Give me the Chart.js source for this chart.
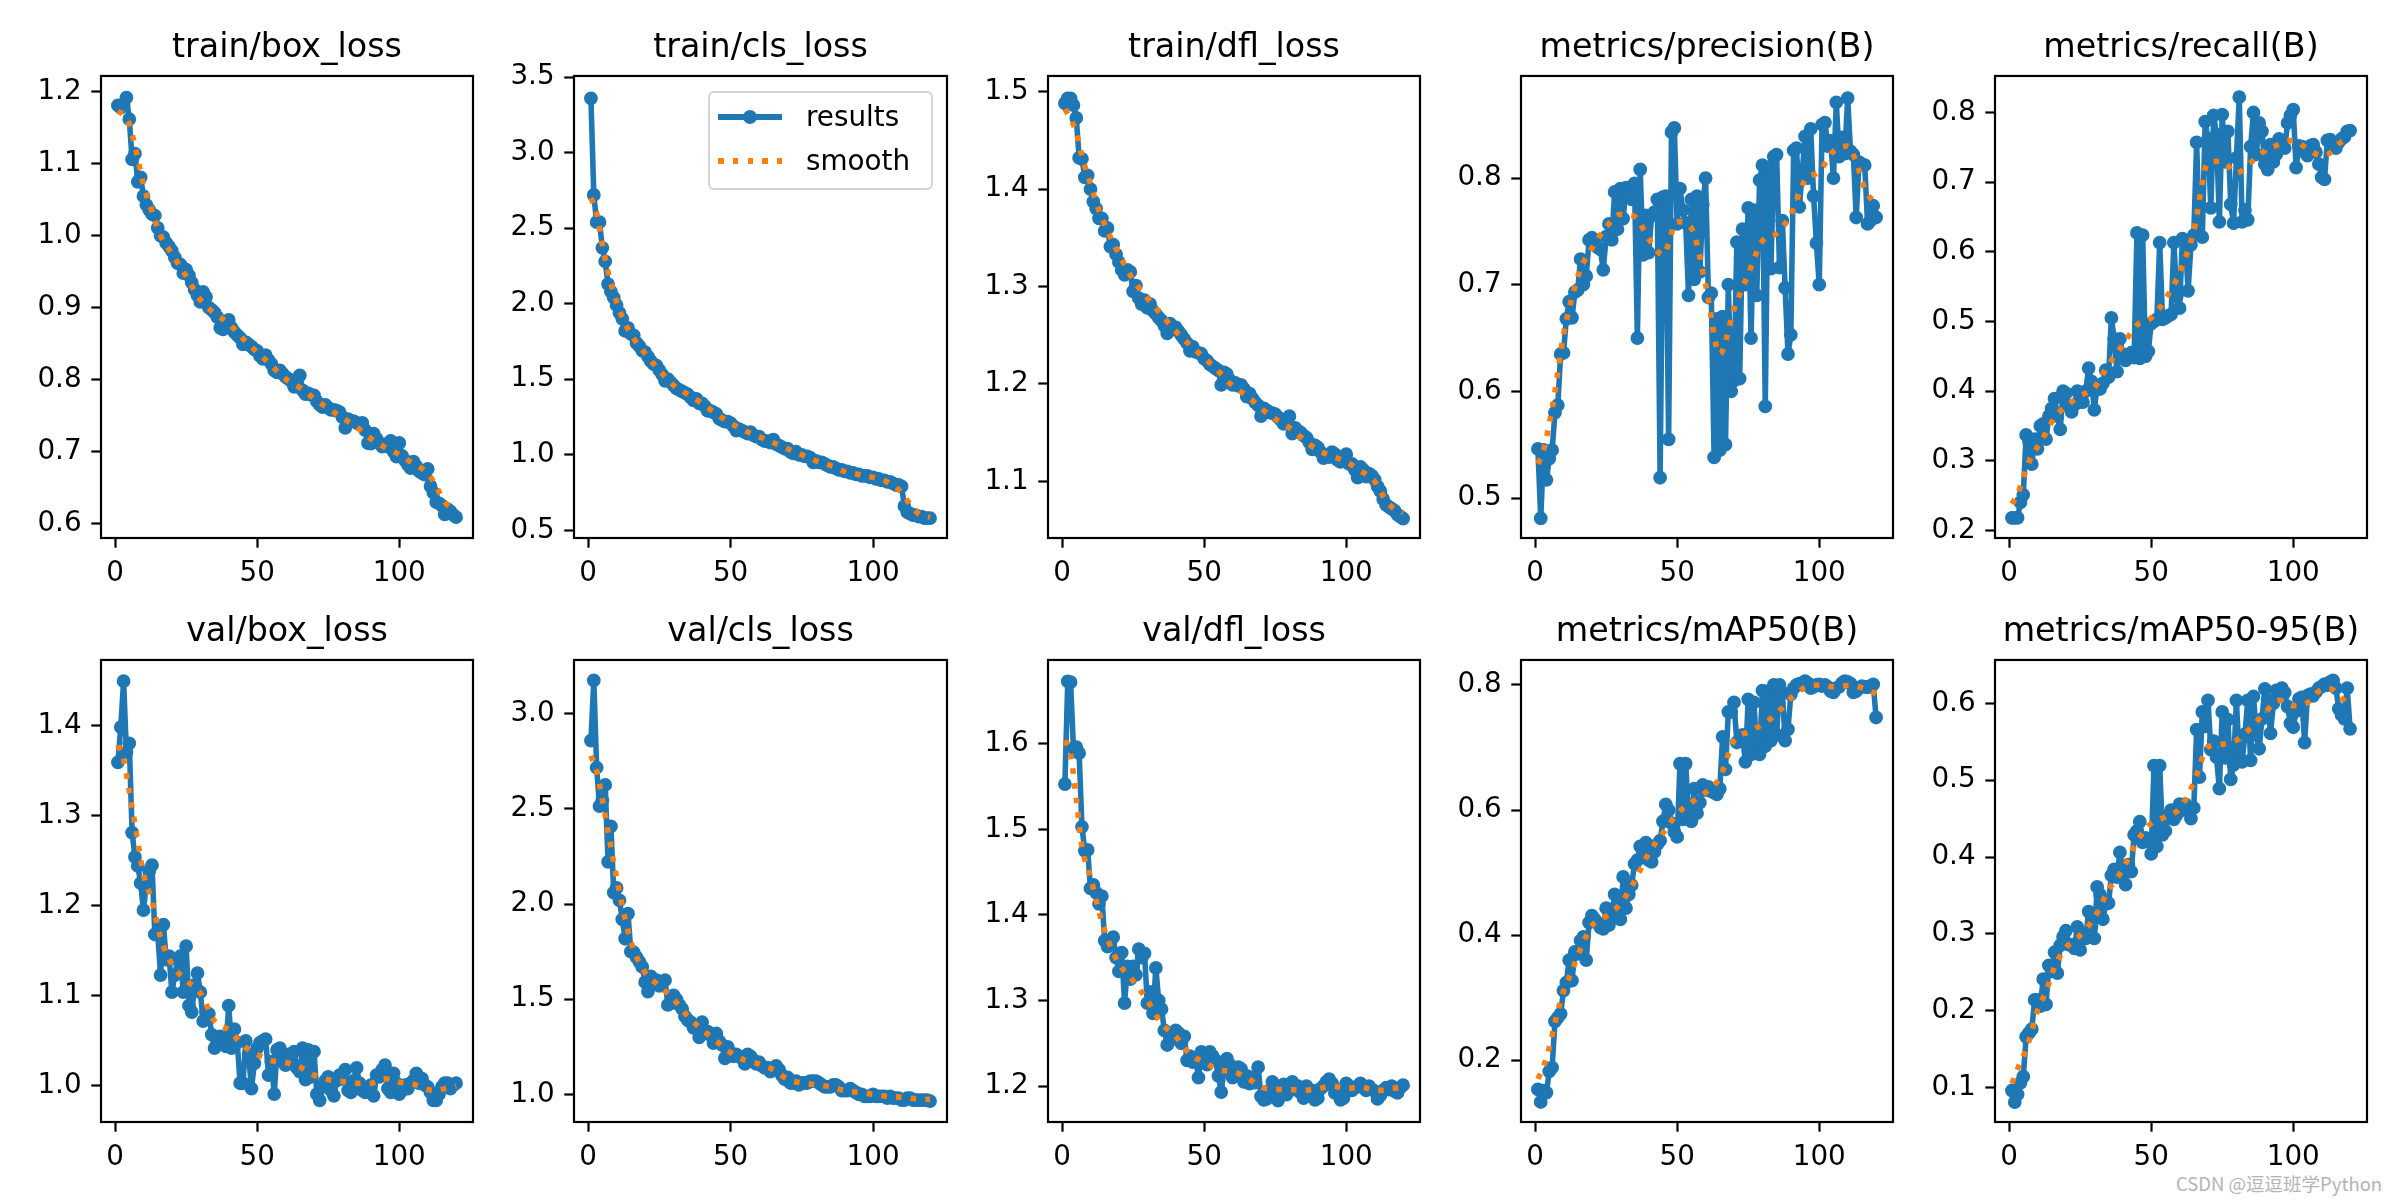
<!DOCTYPE html>
<html>
<head>
  <title>results</title>
  <script src="https://cdn.jsdelivr.net/npm/chart.js"></script>
  <style>
    body {
      margin: 0;
      background: #fff;
    }

    #fig {
      position: relative;
      width: 2400px;
      height: 1200px;
      overflow: hidden;
      font-family: 'DejaVu Sans', sans-serif;
    }

    #fig canvas {
      position: absolute;
    }

    #legend {
      position: absolute;
      left: 708px;
      top: 91px;
      width: 225px;
      height: 99px;
      box-sizing: border-box;
      border: 2.5px solid #d4d4d4;
      border-radius: 6px;
      background: rgba(255,255,255,0.8);
      z-index: 5;
    }

    #legend .item {
      position: absolute;
      left: 0;
      width: 220px;
      height: 32px;
    }

    #legend .line, #legend .dotted {
      position: absolute;
      left: 8px;
      top: 13px;
      width: 64px;
      height: 5.6px;
    }

    #legend .line { background: #1f77b4; }

    #legend .dotted {
      background: repeating-linear-gradient(to right, #ff7f0e 0 5.6px, transparent 5.6px 14.8px);
    }

    #legend .marker {
      position: absolute;
      left: 33px;
      top: 9px;
      width: 14px;
      height: 14px;
      border-radius: 50%;
      background: #1f77b4;
    }

    #legend .label {
      position: absolute;
      left: 96px;
      top: 0;
      line-height: 32px;
      font-size: 27.8px;
      color: #000;
    }

    #mark {
      position: absolute;
      left: 2176px;
      top: 1170px;
      font-family: 'Noto Sans CJK SC', sans-serif;
      font-size: 18.5px;
      color: #b4b4b4;
      white-space: nowrap;
    }
  </style>
</head>
<body>
  <div id="fig">
    <div id="legend">
      <div class="item" style="top:8px">
        <span class="line"></span><span class="marker"></span><span class="label">results</span>
      </div>
      <div class="item" style="top:52px">
        <span class="dotted"></span><span class="label">smooth</span>
      </div>
    </div>
    <div id="mark">CSDN @逗逗班学Python</div>
  </div>

  <script>
    const epochs = [
      1,2,3,4,5,6,7,8,9,10,11,12,13,14,15,16,17,18,19,20,
      21,22,23,24,25,26,27,28,29,30,31,32,33,34,35,36,37,38,39,40,
      41,42,43,44,45,46,47,48,49,50,51,52,53,54,55,56,57,58,59,60,
      61,62,63,64,65,66,67,68,69,70,71,72,73,74,75,76,77,78,79,80,
      81,82,83,84,85,86,87,88,89,90,91,92,93,94,95,96,97,98,99,100,
      101,102,103,104,105,106,107,108,109,110,111,112,113,114,115,116,117,118,119,120
    ];
    const smoothEpochs = [1,3,5,7,10,13,16,20,25,30,35,40,45,50,55,60,65,70,75,80,85,90,95,100,105,110,113,116,120];

    const titles = [
      'train/box_loss', 'train/cls_loss', 'train/dfl_loss', 'metrics/precision(B)', 'metrics/recall(B)',
      'val/box_loss', 'val/cls_loss', 'val/dfl_loss', 'metrics/mAP50(B)', 'metrics/mAP50-95(B)'
    ];

    const trainBox = [
      1.181,1.178,1.183,1.192,1.162,1.106,1.114,1.075,1.081,1.055,
      1.043,1.036,1.030,1.028,1.011,1.000,0.998,0.990,0.985,0.979,
      0.970,0.962,0.960,0.948,0.953,0.945,0.935,0.925,0.917,0.908,
      0.922,0.915,0.900,0.897,0.893,0.887,0.872,0.870,0.880,0.883,
      0.872,0.866,0.862,0.858,0.849,0.852,0.849,0.846,0.842,0.840,
      0.833,0.829,0.834,0.827,0.822,0.813,0.810,0.813,0.808,0.804,
      0.801,0.798,0.790,0.800,0.806,0.785,0.780,0.781,0.779,0.778,
      0.770,0.765,0.762,0.765,0.761,0.758,0.758,0.757,0.755,0.748,
      0.733,0.745,0.743,0.742,0.740,0.738,0.740,0.730,0.712,0.711,
      0.725,0.718,0.712,0.707,0.710,0.707,0.715,0.700,0.693,0.712,
      0.694,0.688,0.682,0.677,0.686,0.680,0.673,0.670,0.668,0.676,
      0.652,0.643,0.630,0.628,0.625,0.613,0.620,0.617,0.612,0.609
    ];
    const trainCls = [
      3.36,2.72,2.54,2.54,2.37,2.28,2.13,2.08,2.04,1.99,
      1.94,1.90,1.82,1.84,1.80,1.79,1.74,1.72,1.69,1.68,
      1.65,1.62,1.60,1.59,1.56,1.53,1.49,1.50,1.48,1.46,
      1.44,1.43,1.42,1.41,1.40,1.38,1.36,1.37,1.34,1.34,
      1.32,1.29,1.29,1.28,1.27,1.24,1.23,1.22,1.22,1.21,
      1.19,1.16,1.17,1.16,1.15,1.14,1.15,1.13,1.12,1.12,
      1.10,1.09,1.09,1.08,1.10,1.07,1.06,1.05,1.04,1.04,
      1.02,1.01,1.02,1.00,1.00,0.99,0.99,0.98,0.95,0.96,
      0.95,0.95,0.94,0.93,0.92,0.92,0.91,0.90,0.90,0.89,
      0.89,0.88,0.88,0.87,0.87,0.86,0.86,0.86,0.85,0.85,
      0.84,0.84,0.83,0.83,0.82,0.82,0.81,0.80,0.80,0.79,
      0.66,0.62,0.61,0.60,0.60,0.59,0.59,0.58,0.58,0.58
    ];
    const trainDfl = [
      1.488,1.493,1.493,1.486,1.473,1.432,1.431,1.412,1.414,1.400,
      1.387,1.380,1.370,1.370,1.357,1.360,1.341,1.343,1.333,1.325,
      1.317,1.312,1.317,1.315,1.295,1.301,1.288,1.282,1.286,1.278,
      1.282,1.275,1.272,1.268,1.265,1.260,1.252,1.262,1.256,1.258,
      1.254,1.250,1.246,1.242,1.234,1.238,1.233,1.232,1.231,1.226,
      1.224,1.220,1.218,1.216,1.214,1.199,1.212,1.210,1.204,1.199,
      1.201,1.198,1.199,1.195,1.187,1.190,1.185,1.181,1.178,1.167,
      1.175,1.173,1.171,1.170,1.169,1.166,1.163,1.159,1.161,1.167,
      1.149,1.155,1.152,1.150,1.147,1.145,1.140,1.133,1.137,1.135,
      1.130,1.124,1.126,1.125,1.130,1.128,1.122,1.120,1.125,1.128,
      1.118,1.118,1.112,1.104,1.115,1.112,1.105,1.108,1.106,1.102,
      1.095,1.090,1.082,1.076,1.074,1.072,1.070,1.066,1.064,1.062
    ];
    const precision = [
      0.546,0.481,0.545,0.517,0.537,0.545,0.580,0.587,0.635,0.636,
      0.668,0.684,0.669,0.693,0.695,0.724,0.700,0.708,0.742,0.744,
      0.742,0.735,0.733,0.714,0.745,0.757,0.742,0.787,0.752,0.790,
      0.762,0.791,0.785,0.780,0.795,0.650,0.808,0.728,0.765,0.730,
      0.765,0.768,0.780,0.519,0.782,0.783,0.555,0.843,0.847,0.757,
      0.790,0.770,0.758,0.690,0.780,0.705,0.783,0.712,0.775,0.800,
      0.688,0.692,0.538,0.668,0.545,0.670,0.550,0.700,0.600,0.610,
      0.740,0.612,0.752,0.700,0.772,0.650,0.770,0.690,0.798,0.812,
      0.586,0.810,0.715,0.820,0.822,0.716,0.760,0.697,0.635,0.653,
      0.826,0.828,0.773,0.805,0.839,0.800,0.846,0.783,0.739,0.700,
      0.850,0.852,0.830,0.835,0.800,0.871,0.820,0.838,0.823,0.875,
      0.825,0.822,0.763,0.815,0.813,0.812,0.757,0.760,0.774,0.763
    ];
    const recall = [
      0.218,0.218,0.218,0.240,0.251,0.337,0.328,0.295,0.331,0.317,
      0.350,0.353,0.331,0.364,0.375,0.389,0.364,0.345,0.400,0.397,
      0.378,0.370,0.380,0.400,0.384,0.384,0.400,0.433,0.414,0.373,
      0.408,0.403,0.411,0.430,0.420,0.505,0.475,0.428,0.475,0.453,
      0.444,0.450,0.455,0.448,0.627,0.447,0.624,0.450,0.457,0.497,
      0.500,0.503,0.613,0.503,0.505,0.508,0.510,0.613,0.536,0.519,
      0.619,0.616,0.544,0.610,0.624,0.757,0.624,0.621,0.787,0.762,
      0.663,0.796,0.768,0.643,0.797,0.729,0.773,0.668,0.641,0.735,
      0.822,0.643,0.660,0.646,0.751,0.800,0.740,0.785,0.773,0.726,
      0.718,0.754,0.729,0.740,0.762,0.754,0.749,0.785,0.796,0.804,
      0.721,0.752,0.751,0.743,0.738,0.752,0.754,0.743,0.726,0.707,
      0.704,0.760,0.761,0.751,0.749,0.757,0.762,0.765,0.773,0.774
    ];
    const valBox = [
      1.359,1.398,1.449,1.370,1.380,1.281,1.254,1.244,1.225,1.195,
      1.225,1.238,1.245,1.168,1.170,1.123,1.179,1.140,1.144,1.104,
      1.123,1.140,1.144,1.104,1.155,1.089,1.082,1.112,1.125,1.104,
      1.072,1.082,1.080,1.057,1.042,1.048,1.055,1.050,1.044,1.089,
      1.042,1.063,1.048,1.003,1.003,1.050,1.035,0.997,1.025,1.042,
      1.048,1.050,1.052,1.012,1.027,0.991,1.040,1.042,1.027,1.023,
      1.035,1.025,1.038,1.020,1.016,1.042,1.007,1.040,1.010,1.038,
      0.991,0.984,0.999,1.006,1.010,0.995,0.989,1.006,1.012,1.008,
      1.018,0.995,0.993,1.006,1.020,1.003,0.995,0.993,0.997,1.001,
      0.989,1.012,1.010,1.018,1.023,0.997,0.993,1.014,1.003,0.991,
      0.995,1.001,0.997,1.003,1.006,1.014,1.003,1.008,1.001,0.999,
      0.993,0.984,0.984,0.991,0.999,1.003,1.003,0.997,1.001,1.003
    ];
    const valCls = [
      2.859,3.176,2.717,2.515,2.545,2.626,2.222,2.408,2.060,2.085,
      2.020,1.920,1.818,1.950,1.750,1.747,1.720,1.697,1.670,1.590,
      1.540,1.620,1.580,1.600,1.570,1.590,1.600,1.470,1.480,1.520,
      1.500,1.470,1.450,1.410,1.390,1.380,1.350,1.360,1.300,1.380,
      1.330,1.330,1.310,1.270,1.320,1.280,1.260,1.190,1.250,1.220,
      1.200,1.210,1.200,1.190,1.160,1.210,1.200,1.180,1.160,1.170,
      1.150,1.140,1.140,1.120,1.130,1.150,1.130,1.100,1.080,1.090,
      1.060,1.060,1.070,1.050,1.060,1.060,1.060,1.070,1.070,1.070,
      1.060,1.050,1.040,1.040,1.040,1.050,1.050,1.040,1.020,1.020,
      1.020,1.030,1.020,1.010,1.000,1.000,0.990,0.990,0.990,1.000,
      0.990,0.990,0.990,0.990,0.980,0.990,0.980,0.980,0.980,0.970,
      0.970,0.980,0.980,0.970,0.970,0.970,0.970,0.970,0.970,0.965
    ];
    const valDfl = [
      1.553,1.673,1.672,1.595,1.596,1.589,1.503,1.475,1.476,1.431,
      1.435,1.426,1.413,1.422,1.370,1.363,1.370,1.374,1.350,1.334,
      1.356,1.297,1.340,1.325,1.340,1.330,1.360,1.350,1.355,1.297,
      1.310,1.285,1.338,1.300,1.290,1.265,1.248,1.260,1.255,1.265,
      1.262,1.250,1.258,1.230,1.235,1.228,1.232,1.210,1.240,1.238,
      1.225,1.240,1.235,1.230,1.212,1.193,1.220,1.232,1.225,1.210,
      1.215,1.222,1.220,1.205,1.212,1.203,1.210,1.204,1.222,1.188,
      1.184,1.185,1.195,1.205,1.198,1.183,1.195,1.202,1.190,1.195,
      1.205,1.196,1.200,1.192,1.186,1.200,1.190,1.195,1.184,1.186,
      1.197,1.200,1.205,1.208,1.203,1.192,1.195,1.184,1.186,1.203,
      1.200,1.195,1.198,1.200,1.203,1.198,1.195,1.200,1.196,1.194,
      1.185,1.189,1.195,1.198,1.196,1.200,1.194,1.192,1.198,1.201
    ];
    const map50 = [
      0.153,0.133,0.151,0.148,0.182,0.188,0.262,0.268,0.274,0.311,
      0.324,0.360,0.327,0.373,0.370,0.391,0.397,0.360,0.420,0.431,
      0.425,0.419,0.412,0.410,0.443,0.416,0.430,0.465,0.450,0.425,
      0.493,0.443,0.465,0.480,0.514,0.520,0.542,0.535,0.548,0.520,
      0.517,0.533,0.545,0.551,0.582,0.609,0.600,0.579,0.565,0.557,
      0.674,0.585,0.674,0.590,0.582,0.634,0.595,0.612,0.640,0.632,
      0.637,0.630,0.628,0.625,0.634,0.717,0.665,0.757,0.757,0.772,
      0.708,0.711,0.720,0.677,0.777,0.689,0.772,0.700,0.689,0.791,
      0.702,0.790,0.711,0.800,0.720,0.800,0.788,0.711,0.729,0.785,
      0.795,0.800,0.802,0.800,0.806,0.803,0.795,0.797,0.800,0.801,
      0.798,0.800,0.797,0.790,0.788,0.795,0.797,0.803,0.806,0.805,
      0.802,0.788,0.790,0.795,0.798,0.797,0.796,0.798,0.801,0.748
    ];
    const map5095 = [
      0.096,0.081,0.091,0.106,0.114,0.166,0.171,0.176,0.214,0.214,
      0.206,0.241,0.208,0.259,0.251,0.276,0.249,0.285,0.296,0.304,
      0.286,0.286,0.281,0.309,0.279,0.299,0.294,0.329,0.310,0.294,
      0.361,0.351,0.319,0.339,0.340,0.376,0.384,0.374,0.406,0.384,
      0.364,0.390,0.381,0.429,0.434,0.446,0.419,0.425,0.420,0.404,
      0.519,0.414,0.519,0.429,0.434,0.454,0.461,0.449,0.455,0.469,
      0.461,0.469,0.461,0.450,0.464,0.566,0.504,0.589,0.570,0.604,
      0.540,0.551,0.530,0.489,0.589,0.529,0.579,0.501,0.520,0.604,
      0.529,0.524,0.560,0.604,0.526,0.609,0.559,0.541,0.580,0.619,
      0.604,0.561,0.600,0.617,0.615,0.620,0.614,0.596,0.574,0.569,
      0.590,0.606,0.608,0.549,0.610,0.612,0.610,0.615,0.620,0.622,
      0.625,0.624,0.628,0.630,0.620,0.593,0.585,0.580,0.620,0.567
    ];

    // smooth curves read at smoothEpochs
    const trainBoxSmooth = [1.173,1.168,1.155,1.125,1.071,1.034,1.000,0.975,0.944,0.911,0.892,0.878,0.857,0.838,0.820,0.801,0.789,0.774,0.760,0.747,0.734,0.718,0.706,0.696,0.683,0.670,0.652,0.630,0.618];
    const trainClsSmooth = [2.70,2.60,2.39,2.21,2.01,1.87,1.77,1.67,1.56,1.46,1.40,1.34,1.27,1.21,1.16,1.12,1.08,1.04,1.00,0.96,0.93,0.89,0.87,0.85,0.82,0.75,0.67,0.61,0.585];
    const trainDflSmooth = [1.482,1.472,1.458,1.434,1.405,1.378,1.357,1.333,1.307,1.288,1.271,1.254,1.240,1.227,1.213,1.198,1.188,1.175,1.164,1.155,1.143,1.132,1.126,1.120,1.111,1.100,1.085,1.074,1.068];
    const precisionSmooth = [0.532,0.545,0.570,0.600,0.653,0.688,0.715,0.734,0.754,0.766,0.764,0.743,0.728,0.759,0.753,0.700,0.635,0.677,0.710,0.741,0.748,0.766,0.798,0.806,0.825,0.830,0.815,0.790,0.775];
    const recallSmooth = [0.238,0.252,0.275,0.298,0.320,0.340,0.362,0.378,0.393,0.405,0.438,0.466,0.495,0.505,0.532,0.570,0.630,0.728,0.730,0.713,0.728,0.745,0.754,0.760,0.748,0.738,0.742,0.755,0.765];
    const valBoxSmooth = [1.378,1.362,1.327,1.290,1.235,1.205,1.165,1.135,1.117,1.103,1.072,1.062,1.045,1.035,1.028,1.026,1.021,1.012,1.007,1.005,1.003,1.003,1.008,1.004,1.002,0.996,0.995,0.997,1.000];
    const valClsSmooth = [2.78,2.70,2.55,2.38,2.14,1.92,1.76,1.64,1.57,1.50,1.41,1.34,1.28,1.22,1.18,1.16,1.13,1.08,1.06,1.05,1.04,1.02,1.01,1.00,0.99,0.985,0.98,0.976,0.974];
    const valDflSmooth = [1.604,1.588,1.536,1.480,1.444,1.404,1.372,1.343,1.323,1.300,1.273,1.258,1.237,1.228,1.219,1.217,1.210,1.199,1.196,1.196,1.195,1.197,1.200,1.197,1.199,1.195,1.195,1.197,1.199];
    const map50Smooth = [0.170,0.190,0.220,0.260,0.310,0.343,0.378,0.415,0.430,0.450,0.486,0.531,0.563,0.594,0.612,0.628,0.652,0.711,0.725,0.737,0.754,0.779,0.796,0.800,0.797,0.799,0.798,0.794,0.786];
    const map5095Smooth = [0.105,0.124,0.141,0.161,0.200,0.225,0.257,0.282,0.298,0.321,0.357,0.384,0.420,0.444,0.452,0.463,0.497,0.543,0.547,0.552,0.568,0.588,0.604,0.597,0.601,0.618,0.619,0.611,0.594];

    const xTicks = [0, 50, 100];
    const yTicks = [
      [0.6,0.7,0.8,0.9,1.0,1.1,1.2],
      [0.5,1.0,1.5,2.0,2.5,3.0,3.5],
      [1.1,1.2,1.3,1.4,1.5],
      [0.5,0.6,0.7,0.8],
      [0.2,0.3,0.4,0.5,0.6,0.7,0.8],
      [1.0,1.1,1.2,1.3,1.4],
      [1.0,1.5,2.0,2.5,3.0],
      [1.2,1.3,1.4,1.5,1.6],
      [0.2,0.4,0.6,0.8],
      [0.1,0.2,0.3,0.4,0.5,0.6]
    ];
    const yLimits = [
      [0.580, 1.222], [0.449, 3.508], [1.042, 1.516], [0.4625, 0.8957], [0.189, 0.8525],
      [0.960, 1.4725], [0.855, 3.283], [1.158, 1.698], [0.101, 0.840], [0.055, 0.6566]
    ];
    const series = [trainBox, trainCls, trainDfl, precision, recall, valBox, valCls, valDfl, map50, map5095];
    const smooths = [trainBoxSmooth, trainClsSmooth, trainDflSmooth, precisionSmooth, recallSmooth,
                     valBoxSmooth, valClsSmooth, valDflSmooth, map50Smooth, map5095Smooth];

    // axes frames in page pixels
    const colLeft = [101, 574, 1048, 1521, 1995];
    const colRight = [473, 947, 1420, 1893, 2367];
    const rowTop = [76, 660];
    const rowBottom = [538, 1122];
    const AXIS_W = 100, TITLE_H = 76, XAXIS_H = 60, RIGHT_PAD = 30;

    const BLUE = '#1f77b4';
    const ORANGE = '#ff7f0e';
    const FONT = 'DejaVu Sans';

    const framePlugin = {
      id: 'frame',
      afterDraw(chart) {
        const a = chart.chartArea;
        const ctx = chart.ctx;
        ctx.save();
        ctx.strokeStyle = '#000';
        ctx.lineWidth = 2.2;
        ctx.strokeRect(a.left, a.top, a.right - a.left, a.bottom - a.top);
        ctx.restore();
      }
    };

    const fig = document.getElementById('fig');

    for (let i = 0; i < 10; i++) {
      const c = i % 5, r = Math.floor(i / 5);
      const canvas = document.createElement('canvas');
      canvas.width = AXIS_W + (colRight[c] - colLeft[c]) + RIGHT_PAD;
      canvas.height = TITLE_H + (rowBottom[r] - rowTop[r]) + XAXIS_H;
      canvas.style.left = (colLeft[c] - AXIS_W) + 'px';
      canvas.style.top = (rowTop[r] - TITLE_H) + 'px';
      fig.appendChild(canvas);

      const ticks = yTicks[i];
      new Chart(canvas.getContext('2d'), {
        type: 'line',
        data: {
          datasets: [{
            label: 'results',
            data: epochs.map((e, k) => ({ x: e, y: series[i][k] })),
            borderColor: BLUE,
            backgroundColor: BLUE,
            borderWidth: 5.56,
            borderJoinStyle: 'round',
            pointRadius: 5.6,
            pointBorderWidth: 2.6,
            pointBackgroundColor: BLUE,
            pointBorderColor: BLUE,
            order: 1
          }, {
            label: 'smooth',
            data: smoothEpochs.map((e, k) => ({ x: e, y: smooths[i][k] })),
            borderColor: ORANGE,
            borderWidth: 5.56,
            borderDash: [5.56, 9.17],
            borderCapStyle: 'butt',
            pointRadius: 0,
            cubicInterpolationMode: 'monotone',
            order: 0
          }]
        },
        options: {
          responsive: false,
          animation: false,
          devicePixelRatio: 1,
          events: [],
          layout: { padding: { left: 0, right: RIGHT_PAD, top: 0, bottom: 0 } },
          plugins: {
            legend: { display: false },
            tooltip: { enabled: false },
            title: {
              display: true,
              text: titles[i],
              fullSize: false,
              color: '#000',
              font: { family: FONT, size: 33.3, weight: 'normal', lineHeight: 1.2 },
              padding: { top: 28, bottom: 8 }
            }
          },
          scales: {
            x: {
              type: 'linear',
              min: -4.95,
              max: 125.95,
              afterBuildTicks: s => { s.ticks = xTicks.map(v => ({ value: v })); },
              afterFit: s => { s.height = XAXIS_H; },
              border: { display: false },
              grid: { drawOnChartArea: false, drawTicks: true, tickLength: 9.7, tickWidth: 2.2, tickColor: '#000' },
              ticks: {
                color: '#000',
                font: { family: FONT, size: 27.8 },
                padding: 9.7,
                maxRotation: 0,
                autoSkip: false,
                callback: v => String(v)
              }
            },
            y: {
              type: 'linear',
              min: yLimits[i][0],
              max: yLimits[i][1],
              afterBuildTicks: s => { s.ticks = ticks.map(v => ({ value: v })); },
              afterFit: s => { s.width = AXIS_W; },
              border: { display: false },
              grid: { drawOnChartArea: false, drawTicks: true, tickLength: 9.7, tickWidth: 2.2, tickColor: '#000' },
              ticks: {
                color: '#000',
                font: { family: FONT, size: 27.8 },
                padding: 9.7,
                autoSkip: false,
                callback: v => Number(v).toFixed(1)
              }
            }
          }
        },
        plugins: [framePlugin]
      });
    }
  </script>
</body>
</html>
